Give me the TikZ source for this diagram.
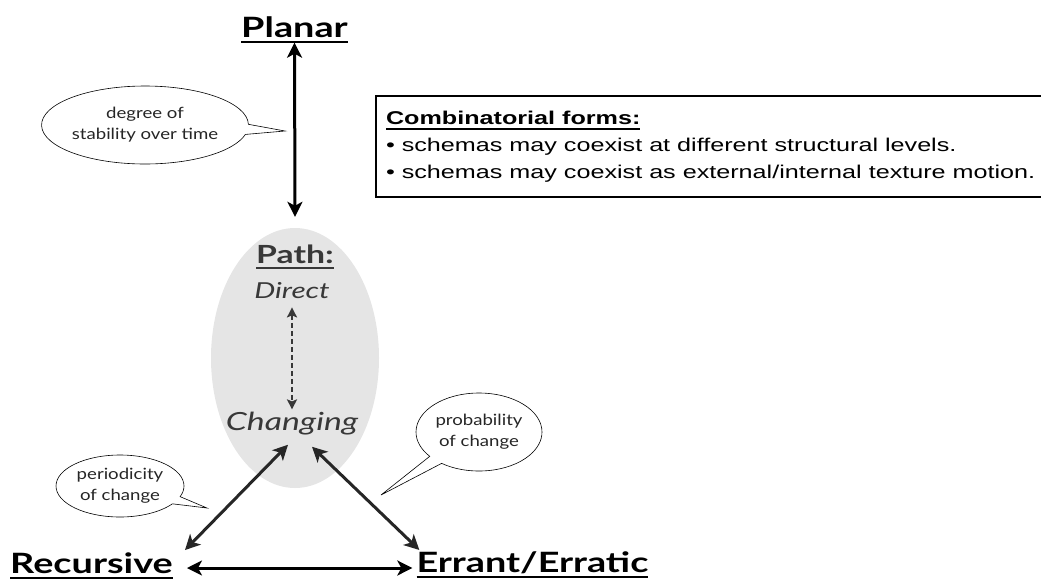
\documentclass[tikz,border=0pt]{standalone}
\usepackage{fontspec}
\setmainfont{Lato}[FakeStretch=1.35]
\newfontfamily\bubblefont{Lato}[FakeStretch=1.2]
\newfontfamily\boxfont{Liberation Sans}[FakeStretch=1.36]
\usepackage{tikz}
\usetikzlibrary{arrows.meta,positioning,shapes.geometric,shapes.callouts}

% underline at a fixed depth below the baseline
\newcommand{\undl}[1]{\setbox0\hbox{#1}\rlap{\vrule height -3.5pt depth 5.5pt width \wd0}\box0}

\begin{document}
\begin{tikzpicture}[
    x=1pt, y=-1pt,
    label/.style={font=\fontsize{28}{30}\selectfont\bfseries, inner sep=0pt, anchor=base},
    pathtext/.style={text=black!78, inner sep=0pt, anchor=base},
    bubble/.style={ellipse callout, draw=black, line width=0.6pt, fill=white, align=center, inner sep=0pt, font=\bubblefont\fontsize{15.5}{21}\selectfont, text=black!85},
    infobox/.style={draw=black, line width=2pt, anchor=north west, align=left, inner xsep=10pt, minimum width=665pt, minimum height=101pt, font=\boxfont\fontsize{18.5}{27}\selectfont},
    arrow/.style={{Stealth[length=15pt,width=15pt,inset=4pt]}-{Stealth[length=15pt,width=15pt,inset=4pt]}, line width=3pt},
    dasharrow/.style={{Stealth[length=10pt,width=10pt,inset=2pt]}-{Stealth[length=10pt,width=10pt,inset=2pt]}, line width=2.2pt, dash pattern=on 5pt off 3pt, black!78}
]
    \useasboundingbox (0,0) rectangle (1041,582);

    % --- Path ellipse in the middle ---
    \node[ellipse, fill=black!10, minimum width=168pt, minimum height=260pt, inner sep=0pt] (pathbg) at (295,358) {};
    \node[pathtext, font=\fontsize{25}{28}\selectfont\bfseries] (path) at (295,263) {\undl{Path:}};
    \node[pathtext, font=\fontsize{22}{26}\selectfont\itshape] (direct) at (292,298) {Direct};
    \node[pathtext, font=\fontsize{25}{28}\selectfont\itshape] (chg) at (292,430) {Changing};

    % --- Corners ---
    \node[label] (planar) at (294.5,37) {\undl{Planar}};
    \node[label] (rec) at (91.5,573) {\undl{Recursive}};
    \node[label] (err) at (532.5,572) {\undl{Errant/Erratic}};

    % Arrows
    \draw[arrow] (planar.south) -- ([yshift=11pt]pathbg.north);
    \draw[dasharrow] ([yshift=-9pt]direct.south) -- ([yshift=2pt]chg.north);
    \draw[arrow, black!85] ([shift={(-4,10)}]chg.south) -- ([shift={(12,-2)}]rec.north east);
    \draw[arrow, black!85] ([shift={(20,12)}]chg.south) -- ([shift={(3,-1)}]err.north west);
    \draw[arrow] ([shift={(14,-5)}]rec.base east) -- ([shift={(-4,-4)}]err.base west);

    % Callouts
    \node[bubble, minimum width=198pt, minimum height=78pt, callout absolute pointer={(285,131)}] (stab) at (145,125) {degree of\\stability over time};
    \node[bubble, minimum width=128pt, minimum height=62pt, callout absolute pointer={(207,508)}] (period) at (120,486) {periodicity\\of change};
    \node[bubble, minimum width=126pt, minimum height=78pt, callout absolute pointer={(381,495)}] (prob) at (479,432) {probability\\of change};

    % Combinatorial forms box
    \node[infobox] (combo) at (375,95) {\textbf{\undl{Combinatorial forms:}}\\
        \textbullet{} schemas may coexist at different structural levels.\\
        \textbullet{} schemas may coexist as external/internal texture motion.};

\end{tikzpicture}
\end{document}
